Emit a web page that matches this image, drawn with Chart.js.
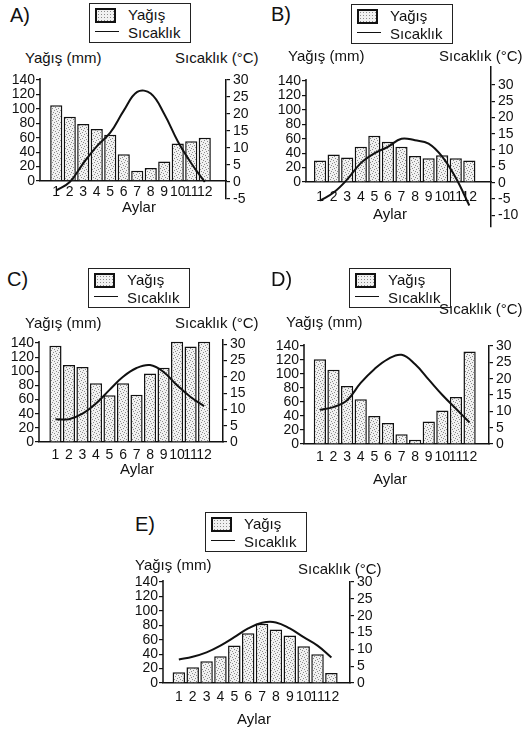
<!DOCTYPE html>
<html>
<head>
<meta charset="utf-8">
<script src="https://cdn.jsdelivr.net/npm/chart.js@4.4.1/dist/chart.umd.min.js"></script>
<style>
  body{margin:0;background:#fff;width:532px;height:730px;position:relative;overflow:hidden;
       font-family:"Liberation Sans",Arial,Helvetica,sans-serif;color:#111}
  canvas{position:absolute}
  .t{position:absolute;font-size:15px;line-height:1;white-space:nowrap}
  .lbl{position:absolute;font-size:20px;line-height:1}
  .legend{position:absolute;width:100px;height:38px;border:1.5px solid #222;background:#fff}
  .legend .sw{position:absolute;left:5px;top:4px;width:17px;height:11px;border:2px solid #111;
       background-color:#f1f1f1;background-image:radial-gradient(#8a8a8a 0.6px,transparent 0.9px);background-size:3px 3px}
  .legend .ln{position:absolute;left:5px;top:27px;width:24px;border-top:1.5px solid #111}
  .legend .t{left:38px}
</style>
</head>
<body>
<canvas id="cA"></canvas>
<canvas id="cB"></canvas>
<canvas id="cC"></canvas>
<canvas id="cD"></canvas>
<canvas id="cE"></canvas>

<script>
/* ── data ── */
var months  = [1,2,3,4,5,6,7,8,9,10,11,12];
var mmTicks = [0,20,40,60,80,100,120,140];

var rainA = [105, 89, 79, 72, 64, 37, 14, 18, 27, 52, 55, 60];
var tempA = [-2.5, 0, 5.5, 10.5, 14.5, 21, 26.5, 26, 20, 12, 5.5, 0];
var rainB = [30, 38, 34, 49, 64, 56, 49, 36, 33, 37, 33, 30];
var tempB = [-5.5, -3, 1, 6, 9, 11, 13.5, 13, 12, 8, 1.5, -7];
var rainC = [136, 109, 106, 83, 66, 83, 67, 97, 105, 142, 135, 142];
var tempC = [7, 7, 8.7, 11.8, 16, 20, 22.7, 23.6, 21.5, 17.4, 13.8, 11];
var rainD = [121, 106, 83, 64, 40, 30, 14, 6, 32, 48, 67, 132];
var tempD = [10.5, 11.3, 13.4, 18.7, 22.9, 26, 27.3, 24.4, 19.7, 15, 10.8, 6.6];
var rainE = [15, 22, 30, 37, 52, 69, 82, 74, 66, 51, 40, 14];
var tempE = [7, 7.8, 9.1, 11.1, 13.6, 16.2, 17.9, 18, 16.2, 13.6, 11.1, 7.6];

var tTicksA   = [-5,0,5,10,15,20,25,30];
var tTicksB   = [-10,-5,0,5,10,15,20,25,30];
var tTicksCDE = [0,5,10,15,20,25,30];

/* ── panel layout: chart area [left,right,top,bottom] in page px ── */
var panels = [
  { id:'cA', name:'A)', rain:rainA, temp:tempA, tt:tTicksA,   area:[40,226,80,199],   mm:[-25,140],     deg:[-5,30],      x:[0.37,13.0],  pad:3,
    lbl:[10,5],   leg:[89,3],   yt:[25,50],   st:[175,50],  ay:[122,199] },
  { id:'cB', name:'B)', rain:rainB, temp:tempB, tt:tTicksB,   area:[306,491,67,227],  mm:[-62.4,159.5], deg:[-13.6,35.5], x:[0.53,13.03], pad:7,
    lbl:[271,4],  leg:[351,4],  yt:[288,48],  st:[439,48],  ay:[373,206] },
  { id:'cC', name:'C)', rain:rainC, temp:tempC, tt:tTicksCDE, area:[39,223,340,442],  mm:[0,144.3],     deg:[0,31.3],     x:[0.35,12.83], pad:5,
    lbl:[7,269],  leg:[88,268], yt:[25,315],  st:[175,315], ay:[120,461] },
  { id:'cD', name:'D)', rain:rainD, temp:tempD, tt:tTicksCDE, area:[304,489,346,444], mm:[0,140],       deg:[0,30],       x:[0.4,12.86],  pad:5,
    lbl:[271,269],leg:[349,268],yt:[286,314], st:[439,301], ay:[373,471] },
  { id:'cE', name:'E)', rain:rainE, temp:tempE, tt:tTicksCDE, area:[163,350,582,683], mm:[0,140],       deg:[0,30],       x:[0.42,12.78], pad:6,
    lbl:[135,514],leg:[205,512],yt:[135,557], st:[298,561], ay:[237,711] }
];

Chart.defaults.font.family = '"Liberation Sans", Arial, Helvetica, sans-serif';
Chart.defaults.font.size = 14;
Chart.defaults.color = '#111';

// stippled fill for the bars
function stipple(ctx){
  var c = document.createElement('canvas'); c.width = 6; c.height = 6;
  var g = c.getContext('2d');
  g.fillStyle = '#f1f1f1'; g.fillRect(0,0,6,6);
  g.fillStyle = '#8a8a8a';
  [[0,0],[3,1],[1,3],[4,4],[2,5],[5,2]].forEach(function(p){ g.fillRect(p[0],p[1],1,1); });
  return ctx.createPattern(c, 'repeat');
}

// left axis line only spans 0..140 mm
var leftSpine = {
  id: 'leftSpine',
  afterDraw: function(chart){
    var s = chart.scales.y, ctx = chart.ctx;
    ctx.save();
    ctx.strokeStyle = '#111'; ctx.lineWidth = 1.5;
    ctx.beginPath();
    ctx.moveTo(s.right, s.getPixelForValue(0));
    ctx.lineTo(s.right, s.getPixelForValue(mmTicks[mmTicks.length-1]) - 2);
    ctx.stroke();
    ctx.restore();
  }
};

function addText(cls, txt, x, y){
  var d = document.createElement('div');
  d.className = cls; d.textContent = txt;
  d.style.left = x + 'px'; d.style.top = y + 'px';
  document.body.appendChild(d);
  return d;
}

function addLegend(x, y){
  var box = document.createElement('div');
  box.className = 'legend';
  box.style.left = x + 'px'; box.style.top = y + 'px';
  box.innerHTML = '<div class="sw"></div><div class="t" style="top:3px">Yağış</div>' +
                  '<div class="ln"></div><div class="t" style="top:21px">Sıcaklık</div>';
  document.body.appendChild(box);
}

panels.forEach(function(p){
  var cv = document.getElementById(p.id);
  var L = p.area[0], R = p.area[1], T = p.area[2], B = p.area[3];
  cv.width  = R - L + 80;
  cv.height = B - T + 52;
  cv.style.left = (L - 40) + 'px';
  cv.style.top  = (T - 12) + 'px';
  var ctx = cv.getContext('2d');

  new Chart(ctx, {
    type: 'bar',
    data: {
      datasets: [
        { type:'line', data: months.map(function(m,i){ return {x:m, y:p.temp[i]}; }), yAxisID:'y1',
          borderColor:'#111', borderWidth:2, pointRadius:0, tension:0.4, fill:false, order:1 },
        { type:'bar', data: months.map(function(m,i){ return {x:m, y:p.rain[i]}; }), yAxisID:'y',
          backgroundColor: stipple(ctx), borderColor:'#111', borderWidth:1.5,
          barPercentage:0.9, categoryPercentage:1, order:2 }
      ]
    },
    options: {
      responsive:false, animation:false,
      layout:{ padding:{ top:12, bottom:40, left:0, right:0 } },
      plugins:{ legend:{display:false}, tooltip:{enabled:false} },
      scales:{
        x:{ type:'linear', position:{y:0}, min:p.x[0], max:p.x[1],
            afterBuildTicks: function(s){ s.ticks = months.map(function(v){ return {value:v}; }); },
            grid:{display:false, drawTicks:false}, border:{display:true, color:'#111', width:1.5},
            ticks:{ autoSkip:false, maxRotation:0, padding:p.pad } },
        y:{ position:'left', min:p.mm[0], max:p.mm[1],
            afterBuildTicks: function(s){ s.ticks = mmTicks.map(function(v){ return {value:v}; }); },
            afterFit: function(s){ s.width = 40; },
            border:{display:false},
            grid:{ drawOnChartArea:false, color:'#111', tickLength:4, lineWidth:1.2 },
            ticks:{ autoSkip:false, padding:1 } },
        y1:{ position:'right', min:p.deg[0], max:p.deg[1],
            afterBuildTicks: function(s){ s.ticks = p.tt.map(function(v){ return {value:v}; }); },
            afterFit: function(s){ s.width = 40; },
            border:{display:true, color:'#111', width:1.5},
            grid:{ drawOnChartArea:false, color:'#111', tickLength:4, lineWidth:1.2 },
            ticks:{ autoSkip:false, padding:3 } }
      }
    },
    plugins:[leftSpine]
  });

  addText('lbl', p.name, p.lbl[0], p.lbl[1]);
  addLegend(p.leg[0], p.leg[1]);
  addText('t', 'Yağış (mm)', p.yt[0], p.yt[1]);
  addText('t', 'Sıcaklık (°C)', p.st[0], p.st[1]);
  addText('t', 'Aylar', p.ay[0], p.ay[1]);
});
</script>
</body>
</html>
